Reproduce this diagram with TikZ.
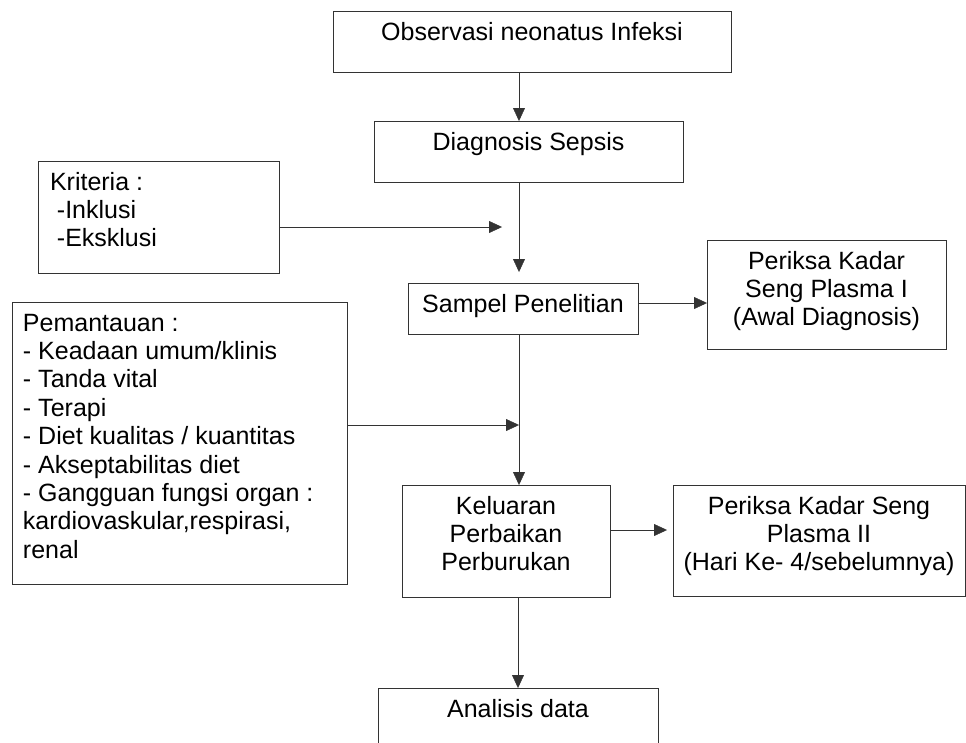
\documentclass[tikz,border=0pt]{standalone}
\usepackage{fontspec}
\setmainfont{Liberation Sans}
\usetikzlibrary{arrows.meta}
\tikzset{->, >={Triangle[length=13pt, width=12pt]}, line width=0.8pt}
\tikzset{box/.style={draw=black!80, inner sep=0pt, outer sep=0pt, anchor=north west,
    font=\fontsize{25}{28.4}\selectfont}}
\newcommand{\boxtext}[4][\centering]{\parbox[c][#3][t]{#2}{#1\rule{0pt}{29pt}#4}}

\begin{document}
\begin{tikzpicture}[x=1pt, y=-1pt]
    \useasboundingbox (0,0) rectangle (966,742);
    \node[box] (obs) at (333,11) {\boxtext{398pt}{61pt}{Observasi neonatus Infeksi}};
    \node[box] (diag) at (374,121) {\boxtext{309pt}{61pt}{Diagnosis Sepsis}};
    \node[box] (krit) at (38,161) {\boxtext[\raggedright\leftskip=12pt]{241pt}{112pt}{Kriteria :\\ ~-Inklusi\\ ~-Eksklusi}};
    \node[box] (samp) at (408,283) {\boxtext{230pt}{51pt}{Sampel Penelitian}};
    \node[box] (per1) at (707,240) {\boxtext{239pt}{109pt}{Periksa Kadar\\ Seng Plasma I\\ (Awal Diagnosis)}};
    \node[box] (pem) at (12,302) {\boxtext[\raggedright\leftskip=11pt]{335pt}{282pt}{Pemantauan :\\ - Keadaan umum/klinis\\ - Tanda vital\\ - Terapi\\ - Diet kualitas / kuantitas\\ - Akseptabilitas diet\\ - Gangguan fungsi organ :\\ kardiovaskular,respirasi,\\ renal}};
    \node[box] (kel) at (402,485) {\boxtext{208pt}{112pt}{Keluaran\\ Perbaikan\\ Perburukan}};
    \node[box] (per2) at (673,485) {\boxtext{292pt}{111pt}{Periksa Kadar Seng\\ Plasma II\\ (Hari Ke- 4/sebelumnya)}};
    \node[box] (ana) at (378,688) {\boxtext{280pt}{70pt}{Analisis data}};

    % free ends of the connectors
    \coordinate (spine) at (519,0);
    \coordinate (sampin) at (519,272);
    \coordinate (kritin) at (502,227);
    \coordinate (pemin) at (519,425);
    \coordinate (per1in) at (707,303);
    \coordinate (per2in) at (667,530);

    \draw[black!80] (obs.south -| spine) -- (diag.north -| spine);
    \draw[black!80] (diag.south -| spine) -- (sampin);
    \draw[black!80] (samp.south -| spine) -- (kel.north -| spine);
    \draw[black!80] (kel.south -| ana.north) -- (ana.north);
    \draw[black!80] (krit.east |- kritin) -- (kritin);
    \draw[black!80] (pem.east |- pemin) -- (pemin);
    \draw[black!80] (samp.east |- per1in) -- (per1in);
    \draw[black!80] (kel.east |- per2in) -- (per2in);
\end{tikzpicture}
\end{document}
